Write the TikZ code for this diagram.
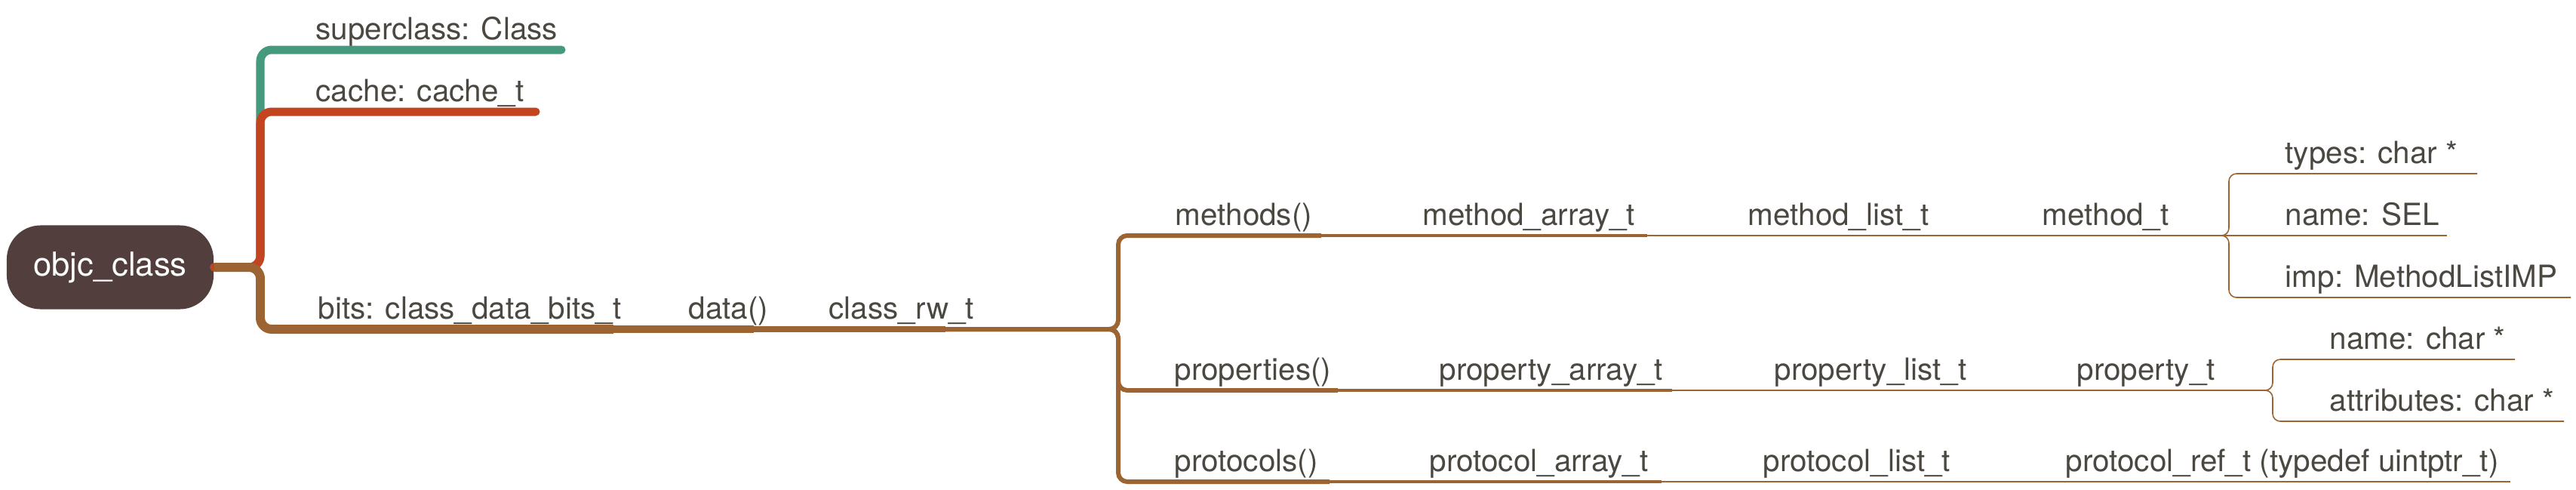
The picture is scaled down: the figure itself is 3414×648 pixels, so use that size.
\documentclass[tikz,border=0pt]{standalone}
\usepackage{fontspec}
\setmainfont{TeX Gyre Heros}
\definecolor{cgreen}{HTML}{459A7E}
\definecolor{cred}{HTML}{C4441F}
\definecolor{cbrown}{HTML}{9B6432}
\definecolor{croot}{HTML}{523F3D}
\definecolor{ctext}{HTML}{4B4741}
\begin{document}
\begin{tikzpicture}[x=0.01cm,y=-0.01cm,
  lab/.style={anchor=base west, inner sep=0pt, text=ctext, font=\fontsize{11.5pt}{14pt}\selectfont},
  rootbox/.style={fill=croot, rounded corners=0.45cm, minimum width=2.74cm, minimum height=1.11cm,
    text=white, font=\fontsize{12.4pt}{14pt}\selectfont, inner sep=0pt},
  wgreen/.style={draw=cgreen, line width=3.13pt, line cap=round, rounded corners=0.15cm},
  wred/.style={draw=cred, line width=3.13pt, line cap=round, rounded corners=0.15cm},
  wbits/.style={draw=cbrown, line width=3.41pt, rounded corners=0.15cm},
  wdata/.style={draw=cbrown, line width=2.85pt},
  wrw/.style={draw=cbrown, line width=2.28pt},
  wlone/.style={draw=cbrown, line width=1.71pt, rounded corners=0.12cm},
  warr/.style={draw=cbrown, line width=1.14pt},
  wlist/.style={draw=cbrown, line width=0.55pt},
  wleaf/.style={draw=cbrown, line width=0.45pt, rounded corners=0.1cm}
]
\useasboundingbox (0,0) rectangle (3414,648);

% coordinates
\coordinate (jR) at (345,354);
\coordinate (eSuper) at (744,66);
\coordinate (eCache) at (710,148);
\coordinate (eBits) at (813,436);
\coordinate (eData) at (999,436);
\coordinate (eRw) at (1253,436);
\coordinate (jRw) at (1482,436);
\coordinate (eMethods) at (1751,312);
\coordinate (eProps) at (1773,517);
\coordinate (eProtos) at (1762,638);
\coordinate (eMArr) at (2183,312);
\coordinate (ePArr) at (2216,517);
\coordinate (eRArr) at (2202,638);
\coordinate (eMList) at (2572,312);
\coordinate (ePList) at (2620,517);
\coordinate (eRList) at (2580,638);
\coordinate (jM) at (2944,312);
\coordinate (bM) at (2954,312);
\coordinate (jP) at (3002,517);
\coordinate (bP) at (3012,517);
\coordinate (eRRef) at (3327,638);
\coordinate (eTypes) at (3283,230);
\coordinate (eSel) at (3243,312);
\coordinate (eImp) at (3407,394);
\coordinate (eName) at (3333,476);
\coordinate (eAttr) at (3398,558);

% root
\node[rootbox] (root) at (146,354) {objc\_class};

% first level branches
\draw[wgreen] (root.east) -- (jR) -- (jR |- eSuper) -- (eSuper);
\draw[wred] (root.east) -- (jR) -- (jR |- eCache) -- (eCache);
\draw[wbits] (root.east) -- (jR) -- (jR |- eBits) -- (eBits);
\draw[wdata] (eBits) -- (eData);
\draw[wrw] (eData) -- (eRw);

% class_rw_t children
\draw[wlone] (eRw) -- (jRw) -- (jRw |- eMethods) -- (eMethods);
\draw[wlone] (eRw) -- (jRw) -- (jRw |- eProps) -- (eProps);
\draw[wlone] (eRw) -- (jRw) -- (jRw |- eProtos) -- (eProtos);

\draw[warr] (eMethods) -- (eMArr);
\draw[warr] (eProps) -- (ePArr);
\draw[warr] (eProtos) -- (eRArr);

\draw[wlist] (eMArr) -- (eMList) -- (jM);
\draw[wlist] (ePArr) -- (ePList) -- (jP);
\draw[wlist] (eRArr) -- (eRList) -- (eRRef);

% leaves
\draw[wleaf] (jM) -- (bM) -- (bM |- eTypes) -- (eTypes);
\draw[wleaf] (jM) -- (eSel);
\draw[wleaf] (jM) -- (bM) -- (bM |- eImp) -- (eImp);
\draw[wleaf] (jP) -- (bP) -- (bP |- eName) -- (eName);
\draw[wleaf] (jP) -- (bP) -- (bP |- eAttr) -- (eAttr);

% labels
\node[lab] (lSuper) at (418,52) {superclass: Class};
\node[lab] (lCache) at (418,134) {cache: cache\_t};
\node[lab] (lBits) at (421,422) {bits: class\_data\_bits\_t};
\node[lab] (lData) at (912,422) {data()};
\node[lab] (lRw) at (1098,422) {class\_rw\_t};
\node[lab] (lMethods) at (1557,298) {methods()};
\node[lab] (lProps) at (1556,503) {properties()};
\node[lab] (lProtos) at (1556,624) {protocols()};
\node[lab] (lMArr) at (1885,298) {method\_array\_t};
\node[lab] (lPArr) at (1907,503) {property\_array\_t};
\node[lab] (lRArr) at (1894,624) {protocol\_array\_t};
\node[lab] (lMList) at (2316,298) {method\_list\_t};
\node[lab] (lPList) at (2351,503) {property\_list\_t};
\node[lab] (lRList) at (2336,624) {protocol\_list\_t};
\node[lab] (lMt) at (2706,298) {method\_t};
\node[lab] (lPt) at (2752,503) {property\_t};
\node[lab] (lRRef) at (2737,624) {protocol\_ref\_t (typedef uintptr\_t)};
\node[lab] (lTypes) at (3028,216) {types: char *};
\node[lab] (lSel) at (3028,298) {name: SEL};
\node[lab] (lImp) at (3028,380) {imp: MethodListIMP};
\node[lab] (lPName) at (3087,462) {name: char *};
\node[lab] (lPAttr) at (3087,544) {attributes: char *};
\end{tikzpicture}
\end{document}
